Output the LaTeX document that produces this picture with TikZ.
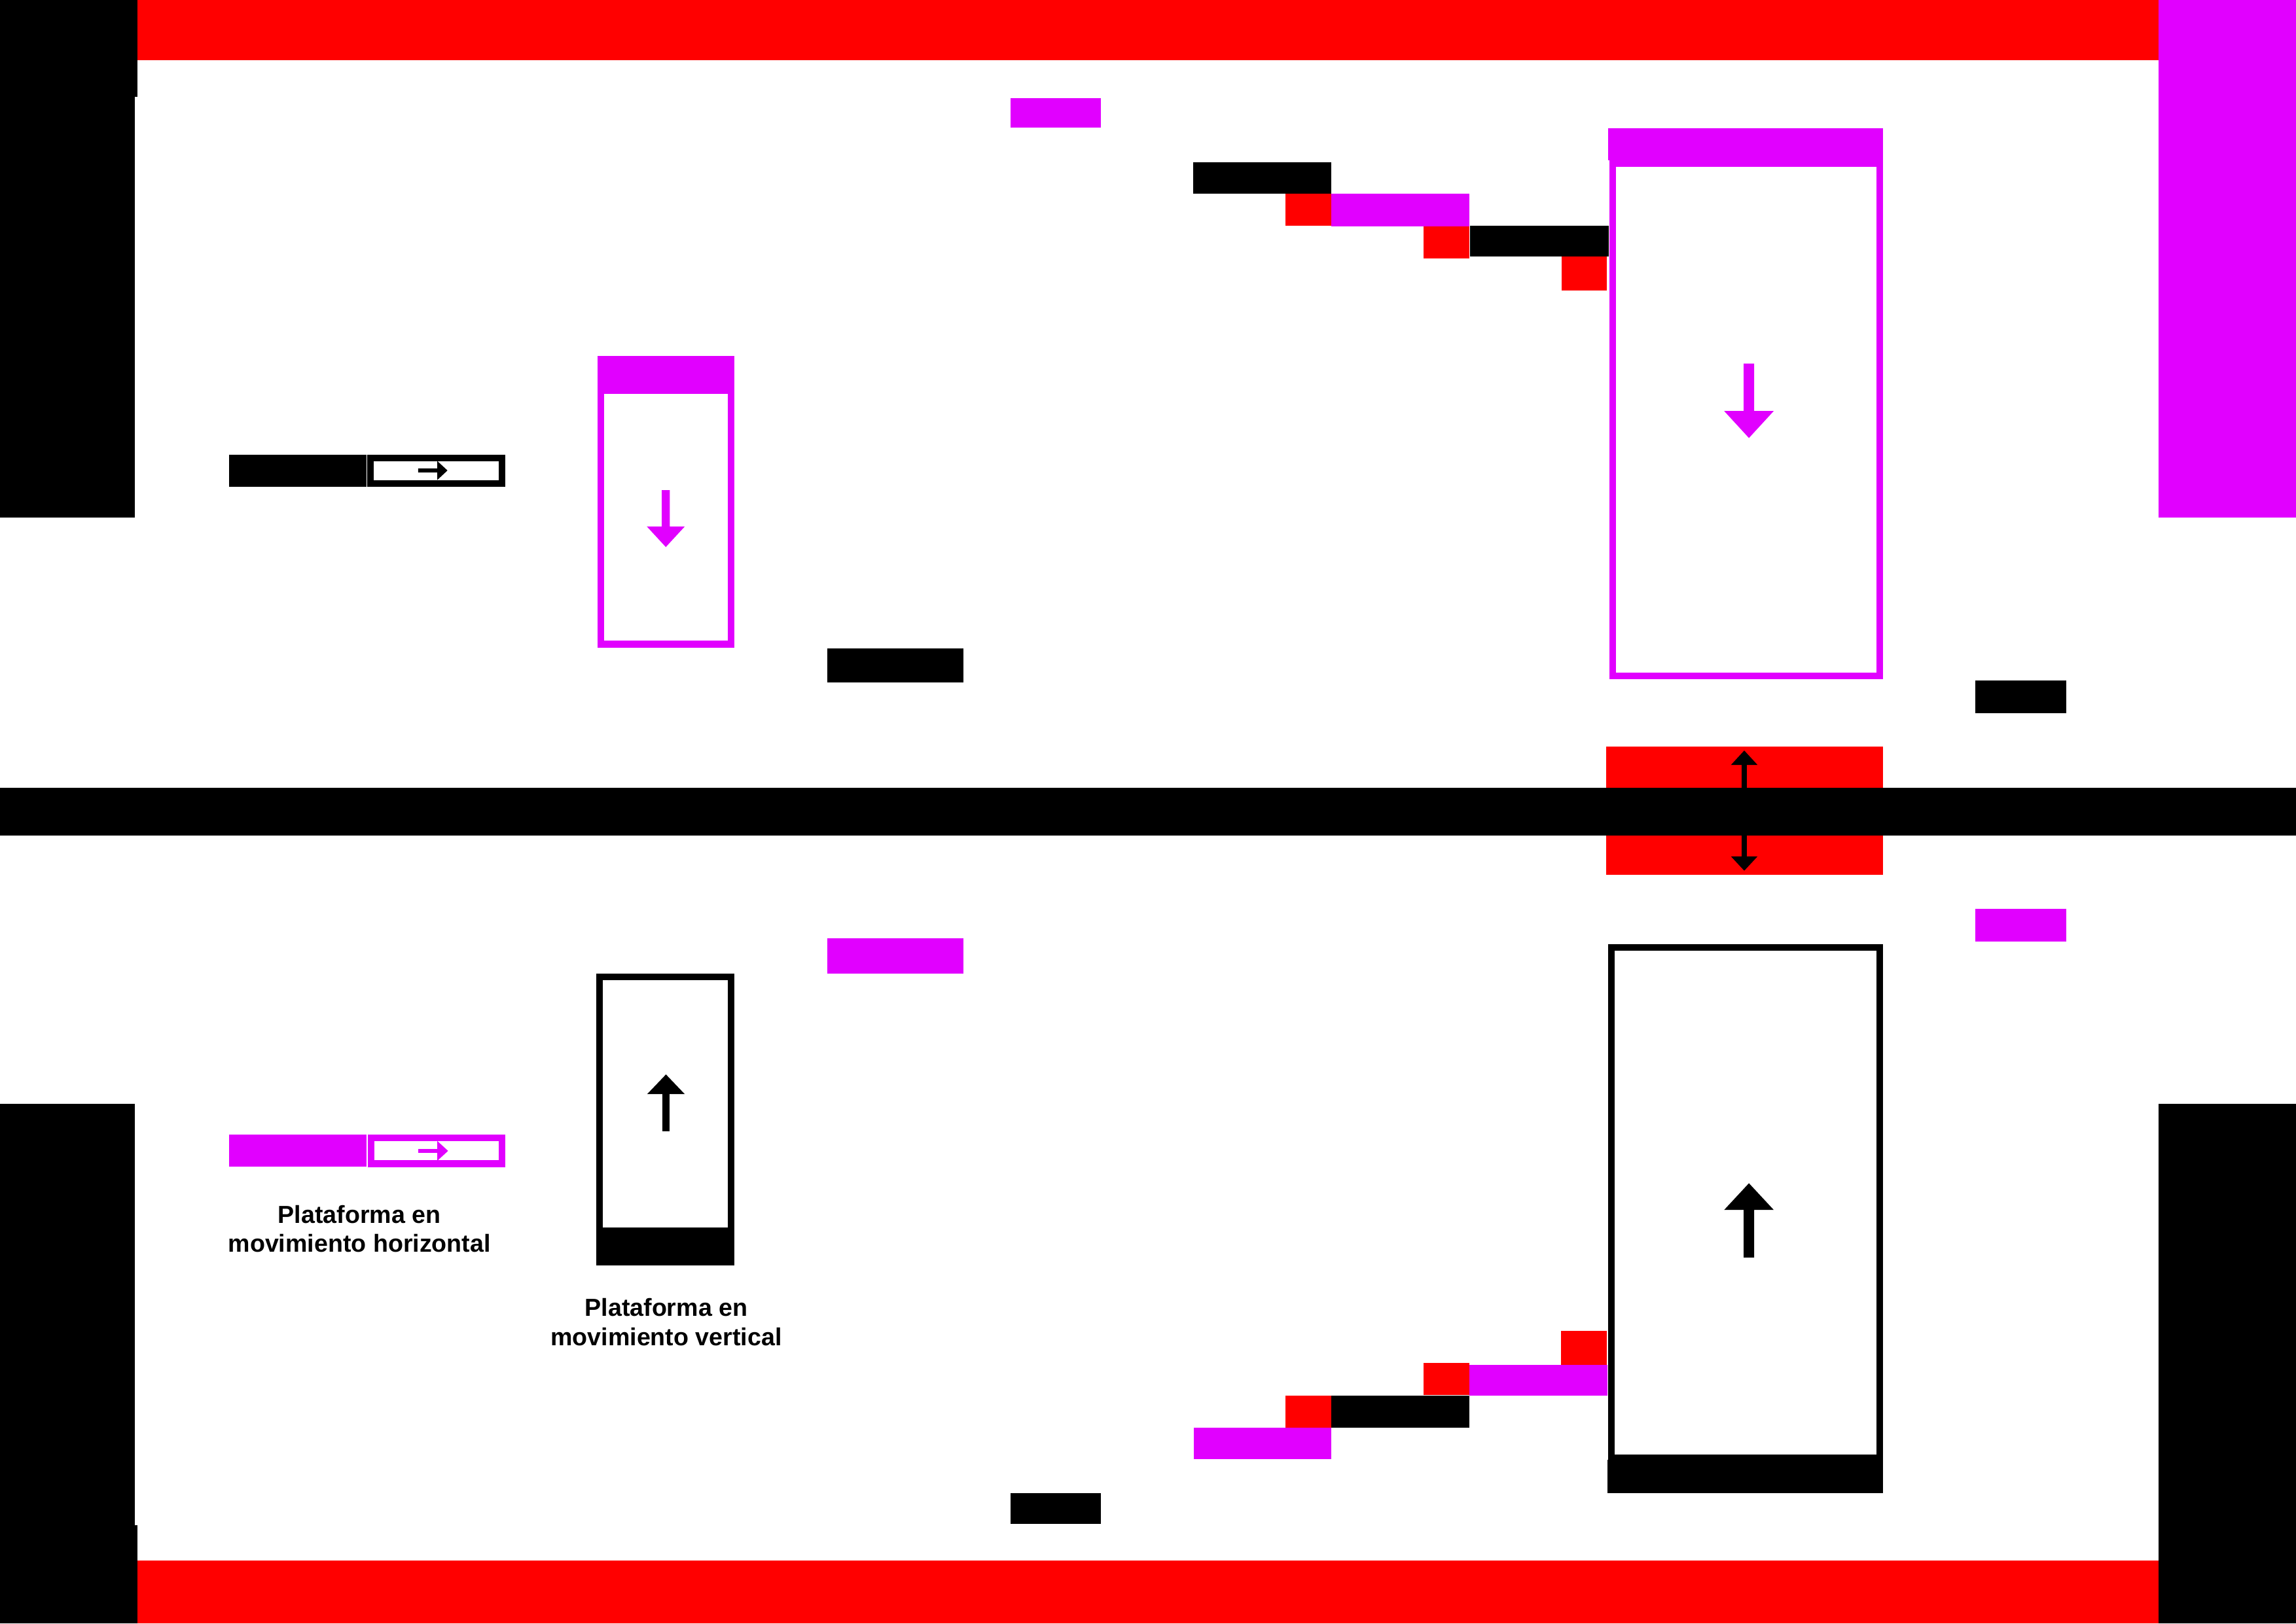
\documentclass[tikz,border=0pt]{standalone}
\usepackage{fontspec}
\setmainfont{Liberation Sans}
\definecolor{lvred}{HTML}{FF0000}
\definecolor{lvmag}{HTML}{E100FF}
\tikzset{
  redblock/.style={fill=lvred},
  magblock/.style={fill=lvmag},
  blkblock/.style={fill=black},
  magframe/.style={draw=lvmag, line width=0.046cm},
  blkframe/.style={draw=black, line width=0.045cm},
  caption/.style={align=center, inner sep=0pt, font=\bfseries\fontsize{4.78pt}{5.69pt}\selectfont}
}
\begin{document}
\begin{tikzpicture}[x=0.01cm, y=-0.01cm]
\useasboundingbox (0,0) rectangle (1568,1109);
\fill[white] (0,0) rectangle (1568,1109);

% outer walls
\fill[redblock] (94,0) rectangle (1474,41);
\fill[redblock] (94,1066) rectangle (1474,1109);
\fill[blkblock] (0,0) rectangle (94,66);
\fill[blkblock] (0,66) rectangle (92,353.5);
\fill[magblock] (1474,0) rectangle (1568,353.5);
\fill[blkblock] (0,754) rectangle (92,1042);
\fill[blkblock] (0,1042) rectangle (94,1109);
\fill[blkblock] (1474,754) rectangle (1568,1109);

% red block with double arrow and middle bar
\fill[redblock] (1097,510) rectangle (1286,597.6);
\fill[blkblock] (0,538.2) rectangle (1568,570.8);
\fill[black] (1189.5,522.6) -- (1182.1,522.6) -- (1191.2,512.7) -- (1200.3,522.6) -- (1192.9,522.6)
  -- (1192.9,585) -- (1200.3,585) -- (1191.2,594.8) -- (1182.1,585) -- (1189.5,585) -- cycle;

% legend: horizontal platforms
\fill[blkblock] (156.5,310.7) rectangle (250.3,332.6);
\draw[blkframe] (253,312.9) rectangle (342.8,330.4);
\fill[black] (285.6,320) -- (298.6,320) -- (298.6,314.9) -- (305.6,321.4) -- (298.6,327.9) -- (298.6,322.8) -- (285.6,322.8) -- cycle;

\fill[magblock] (156.4,775) rectangle (250.3,797);
\draw[magframe] (253.3,777.3) rectangle (342.7,794.9);
\fill[lvmag] (285.7,784.9) -- (298.6,784.9) -- (298.6,779.4) -- (306,786.2) -- (298.6,793) -- (298.6,787.5) -- (285.7,787.5) -- cycle;

% legend: small vertical platforms
\fill[magblock] (408,243.2) rectangle (501.5,264.6);
\draw[magframe] (410.3,266.9) rectangle (499.2,440.1);
\fill[lvmag] (452,334.8) -- (457.4,334.8) -- (457.4,359.6) -- (467.7,359.6) -- (454.7,373.7) -- (441.7,359.6) -- (452,359.6) -- cycle;

\draw[blkframe] (409.3,667.3) rectangle (499.4,840.8);
\fill[blkblock] (407,840) rectangle (501.7,864.3);
\fill[black] (452.4,772.8) -- (457.2,772.8) -- (457.2,747.4) -- (467.6,747.4) -- (454.8,734) -- (442,747.4) -- (452.4,747.4) -- cycle;

% captions
\node[caption] (caph) at (245.5,839.5) {Plataforma en\\movimiento horizontal};
\node[caption] (capv) at (455,903) {Plataforma en\\movimiento vertical};

% single platforms
\fill[blkblock] (565,443) rectangle (658,466);
\fill[magblock] (565,641) rectangle (658,665);
\fill[magblock] (690,67) rectangle (752,87);
\fill[blkblock] (690,1020) rectangle (752,1041);
\fill[blkblock] (1349,465) rectangle (1411,487);
\fill[magblock] (1349,621) rectangle (1411,643);

% upper staircase
\fill[redblock] (878,132.3) rectangle (909.5,154.2);
\fill[redblock] (972,154.7) rectangle (1003.5,176.6);
\fill[redblock] (1066.5,175.2) rectangle (1097.4,198.5);
\fill[blkblock] (815,111) rectangle (909,132.3);
\fill[magblock] (909,132.3) rectangle (1003.5,154.5);
\fill[blkblock] (1004,154.2) rectangle (1098.7,175.2);

% lower staircase
\fill[redblock] (878,953.4) rectangle (909,975.3);
\fill[redblock] (972,931) rectangle (1003.4,953);
\fill[redblock] (1066,909.2) rectangle (1097.4,932.4);
\fill[magblock] (815.3,975.3) rectangle (909,996.8);
\fill[blkblock] (909,953.2) rectangle (1003.4,975.3);
\fill[magblock] (1003.4,932.4) rectangle (1098,953.4);

% big vertical platforms
\fill[magblock] (1098.3,87.6) rectangle (1286,109.5);
\draw[magframe] (1101.5,111.8) rectangle (1283.7,461.7);
\fill[lvmag] (1190.85,248.4) -- (1197.95,248.4) -- (1197.95,280.8) -- (1211.3,280.8) -- (1194.4,299.2) -- (1177.5,280.8) -- (1190.85,280.8) -- cycle;

\draw[blkframe] (1100.3,647.3) rectangle (1283.7,995.7);
\fill[blkblock] (1098,997) rectangle (1286,1020);
\fill[black] (1190.85,859) -- (1197.95,859) -- (1197.95,826.5) -- (1211.3,826.5) -- (1194.4,808.3) -- (1177.5,826.5) -- (1190.85,826.5) -- cycle;
\end{tikzpicture}
\end{document}
